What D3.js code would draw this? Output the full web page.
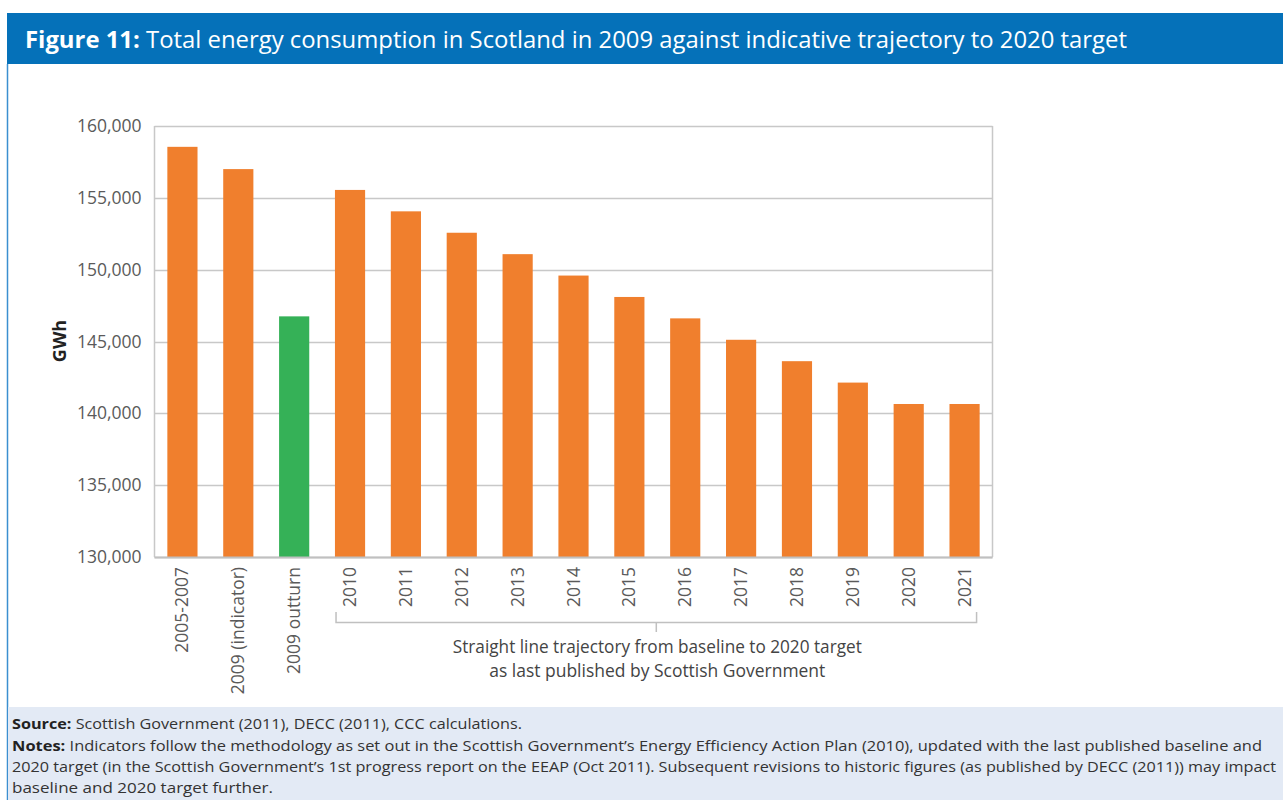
<!DOCTYPE html>
<html><head><meta charset="utf-8">
<script src="https://cdn.jsdelivr.net/npm/d3@7"></script>
<style>body{margin:0;background:#fff;}svg{display:block;font-family:"Open Sans",sans-serif;}</style>
</head><body><svg id="c" width="1283" height="800"></svg>
<script>
const categories = ["2005-2007","2009 (indicator)","2009 outturn","2010","2011","2012","2013","2014","2015","2016","2017","2018","2019","2020","2021"];
const values = [158550,157000,146750,155550,154060,152570,151080,149590,148100,146610,145120,143630,142140,140650,140650];
const barKinds = ["base","base","outturn","base","base","base","base","base","base","base","base","base","base","base","base"];
const yTicks = [130000,135000,140000,145000,150000,155000,160000];
const titleBold = "Figure 11:";
const titleRest = " Total energy consumption in Scotland in 2009 against indicative trajectory to 2020 target";
const bracketLines = ["Straight line trajectory from baseline to 2020 target","as last published by Scottish Government"];
const bracketFrom = "2010", bracketTo = "2021";
const sourceLine = ["Source:"," Scottish Government (2011), DECC (2011), CCC calculations."];
const notesLines = [
 ["Notes:"," Indicators follow the methodology as set out in the Scottish Government\u2019s Energy Efficiency Action Plan (2010), updated with the last published baseline and"],
 ["","2020 target (in the Scottish Government\u2019s 1st progress report on the EEAP (Oct 2011). Subsequent revisions to historic figures (as published by DECC (2011)) may impact"],
 ["","baseline and 2020 target further."]];

const svg = d3.select("#c");
const colors = {base:"#F07F2D", outturn:"#35B157"};

// frame
svg.append("rect").attr("x",7).attr("y",13).attr("width",1276).attr("height",51).attr("fill","#0571B9");
svg.append("line").attr("x1",7.5).attr("x2",7.5).attr("y1",64).attr("y2",800).attr("stroke","#3b8fd0").attr("stroke-width",1.5);
svg.append("rect").attr("x",8).attr("y",707).attr("width",1275).attr("height",93).attr("fill","#E3EAF5");

// title
const tt = svg.append("text").attr("x",25).attr("y",48).attr("fill","#fff").attr("font-size",24)
  .attr("textLength",1102).attr("lengthAdjust","spacingAndGlyphs");
tt.append("tspan").attr("font-weight","bold").text(titleBold);
tt.append("tspan").text(titleRest);

const L=154.5, R=992.5, T=126, B=557;
const x = d3.scaleBand().domain(categories).range([L,R]).paddingInner(0.46).paddingOuter(0.23);
const y = d3.scaleLinear().domain([130000,160000]).range([B,T]);

// gridlines
svg.append("g").selectAll("line").data(yTicks).join("line")
  .attr("x1",L).attr("x2",R).attr("y1",d=>Math.round(y(d))+0.5).attr("y2",d=>Math.round(y(d))+0.5)
  .attr("stroke","#c8c8c8").attr("stroke-width",1.5);
// side borders
svg.append("line").attr("x1",L).attr("x2",L).attr("y1",T).attr("y2",B).attr("stroke","#c8c8c8").attr("stroke-width",1.5);
svg.append("line").attr("x1",R).attr("x2",R).attr("y1",T).attr("y2",B).attr("stroke","#c8c8c8").attr("stroke-width",1.5);

// bars
svg.append("g").selectAll("rect").data(categories).join("rect")
  .attr("x",d=>x(d)).attr("width",x.bandwidth())
  .attr("y",(d,i)=>y(values[i])).attr("height",(d,i)=>B-y(values[i]))
  .attr("fill",(d,i)=>colors[barKinds[i]]);

svg.append("line").attr("x1",L).attr("x2",R).attr("y1",B+0.5).attr("y2",B+0.5).attr("stroke","#c0c0c0").attr("stroke-width",2);

// y axis
const ya = svg.append("g").attr("transform",`translate(${L},0)`)
  .call(d3.axisLeft(y).tickValues(yTicks).tickFormat(d3.format(",")).tickSize(0).tickPadding(13));
ya.select(".domain").remove();
ya.selectAll("text").attr("font-size",17.5).attr("fill","#5a5a5a").attr("font-family","'Open Sans',sans-serif");

svg.append("text").attr("transform","translate(66,341) rotate(-90)").attr("text-anchor","middle")
  .attr("font-weight","bold").attr("font-size",18).attr("fill","#222").text("GWh");

// x axis
const xa = svg.append("g").attr("transform",`translate(0,${B})`)
  .call(d3.axisBottom(x).tickSize(0).tickPadding(0));
xa.select(".domain").remove();
xa.selectAll("text").attr("font-size",17.5).attr("fill","#5a5a5a").attr("font-family","'Open Sans',sans-serif")
  .attr("text-anchor","end").attr("dy",null).attr("y",0)
  .attr("transform","translate(6,10) rotate(-90)");

// bracket
const bx1 = x(bracketFrom)+x.bandwidth()/2 - 14, bx2 = x(bracketTo)+x.bandwidth()/2 + 12;
const by = 622.5;
svg.append("path").attr("d",`M${bx1},612 V${by} H${bx2} V612 M${(bx1+bx2)/2},${by} V632`)
  .attr("fill","none").attr("stroke","#c0c0c0").attr("stroke-width",1.5);
svg.append("g").selectAll("text").data(bracketLines).join("text")
  .attr("x",(bx1+bx2)/2+1).attr("y",(d,i)=>653+i*24).attr("text-anchor","middle")
  .attr("font-size",17.5).attr("fill","#444").attr("textLength",(d,i)=>[409,336][i]).attr("lengthAdjust","spacingAndGlyphs").text(d=>d);

// footer
const footer = [sourceLine].concat(notesLines);
const fLens = [510,1250,1264,261];
const fY = [729,751,772,793];
footer.forEach((ln,i)=>{
  const t = svg.append("text").attr("x",12).attr("y",fY[i]).attr("font-size",15).attr("fill","#333")
    .attr("textLength",fLens[i]).attr("lengthAdjust","spacingAndGlyphs");
  if(ln[0]) t.append("tspan").attr("font-weight","bold").attr("fill","#222").text(ln[0]);
  t.append("tspan").text(ln[1]);
});
</script></body></html>
